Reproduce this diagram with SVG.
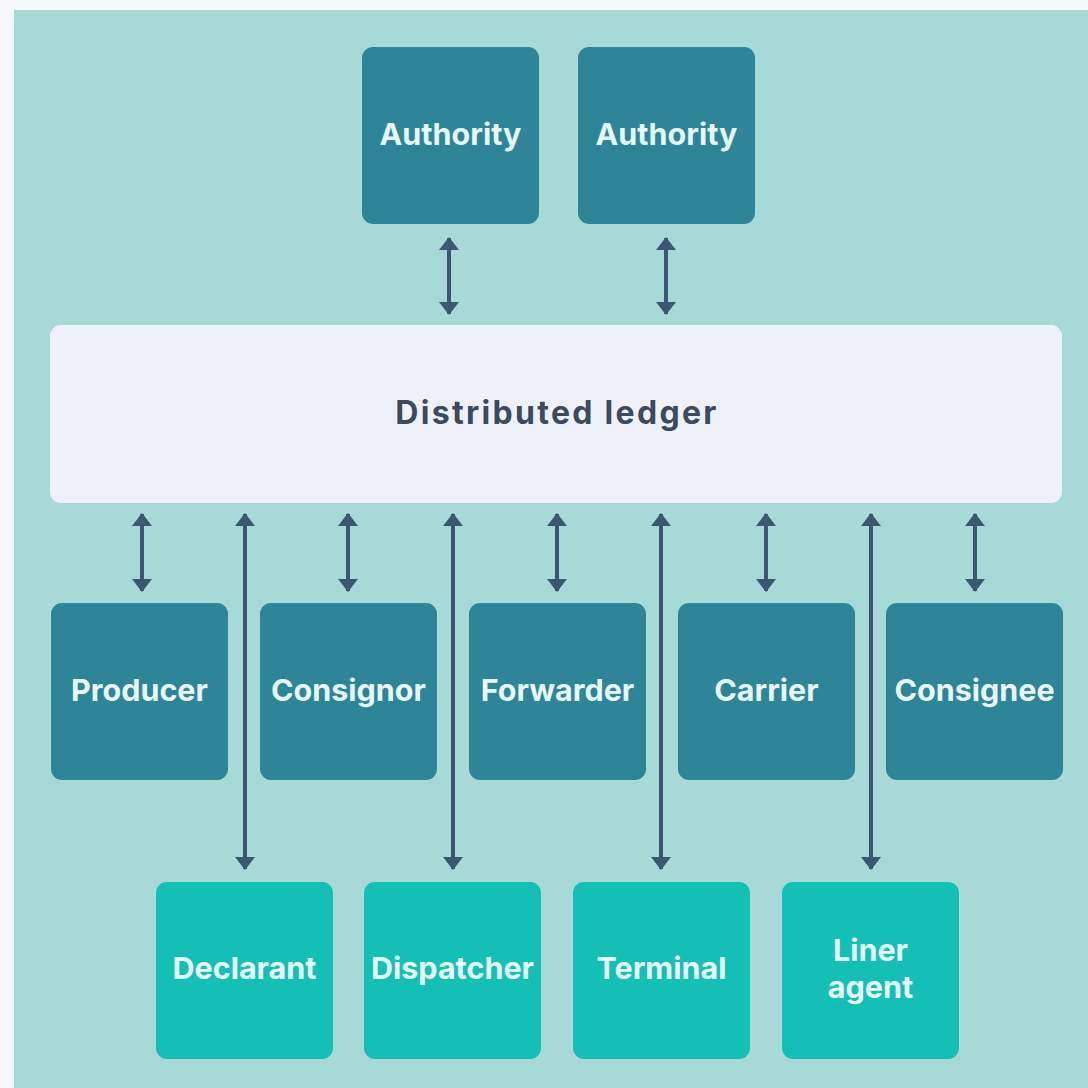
<svg xmlns="http://www.w3.org/2000/svg" width="1088" height="1088" viewBox="0 0 1088 1088">
<defs>
<style>
.dark{fill:#2E8598}
.light{fill:#14C0B6}
.lbl{font-family:Inter,"Liberation Sans",sans-serif;font-weight:700;font-size:30.5px;fill:#E6F8F8;text-anchor:middle;dominant-baseline:central}
.ledger-lbl{font-family:Inter,"Liberation Sans",sans-serif;font-weight:700;font-size:32px;letter-spacing:2.3px;fill:#3B4A5E;text-anchor:middle;dominant-baseline:central}
.con{stroke:#3C5870;stroke-width:4;fill:none;marker-start:url(#ah);marker-end:url(#ah)}
</style>
<marker id="ah" viewBox="0 0 13 20" refX="12" refY="10" markerWidth="13" markerHeight="20" markerUnits="userSpaceOnUse" orient="auto-start-reverse">
<path d="M0,0 L13,10 L0,20 Z" fill="#3C5870"/>
</marker>
</defs>
<rect x="0" y="0" width="1088" height="1088" fill="#F7F8FC"/>
<rect x="14" y="10" width="1074" height="1078" fill="#A7DAD6"/>

<g id="connectors">
<line class="con" x1="449" y1="238" x2="449" y2="314"/>
<line class="con" x1="666" y1="238" x2="666" y2="314"/>
<line class="con" x1="142" y1="514" x2="142" y2="591"/>
<line class="con" x1="348" y1="514" x2="348" y2="591"/>
<line class="con" x1="557" y1="514" x2="557" y2="591"/>
<line class="con" x1="766" y1="514" x2="766" y2="591"/>
<line class="con" x1="975" y1="514" x2="975" y2="591"/>
<line class="con" x1="245" y1="514" x2="245" y2="869"/>
<line class="con" x1="453" y1="514" x2="453" y2="869"/>
<line class="con" x1="661" y1="514" x2="661" y2="869"/>
<line class="con" x1="871" y1="514" x2="871" y2="869"/>
</g>

<g id="authority1"><rect class="dark" x="362" y="47" width="177" height="177" rx="11"/><text class="lbl" x="450.5" y="133">Authority</text></g>
<g id="authority2"><rect class="dark" x="578" y="47" width="177" height="177" rx="11"/><text class="lbl" x="666.5" y="133">Authority</text></g>

<g id="ledger"><rect x="50" y="325" width="1012" height="178" rx="11" fill="#EEF1FA"/><text class="ledger-lbl" x="557" y="412">Distributed ledger</text></g>

<g id="producer"><rect class="dark" x="51" y="603" width="177" height="177" rx="11"/><text class="lbl" x="139.5" y="689">Producer</text></g>
<g id="consignor"><rect class="dark" x="260" y="603" width="177" height="177" rx="11"/><text class="lbl" x="348.5" y="689">Consignor</text></g>
<g id="forwarder"><rect class="dark" x="469" y="603" width="177" height="177" rx="11"/><text class="lbl" x="557.5" y="689">Forwarder</text></g>
<g id="carrier"><rect class="dark" x="678" y="603" width="177" height="177" rx="11"/><text class="lbl" x="766.5" y="689">Carrier</text></g>
<g id="consignee"><rect class="dark" x="886" y="603" width="177" height="177" rx="11"/><text class="lbl" x="974.5" y="689">Consignee</text></g>

<g id="declarant"><rect class="light" x="156" y="882" width="177" height="177" rx="11"/><text class="lbl" x="244.5" y="967">Declarant</text></g>
<g id="dispatcher"><rect class="light" x="364" y="882" width="177" height="177" rx="11"/><text class="lbl" x="452.5" y="967">Dispatcher</text></g>
<g id="terminal"><rect class="light" x="573" y="882" width="177" height="177" rx="11"/><text class="lbl" x="661.5" y="967">Terminal</text></g>
<g id="liner-agent"><rect class="light" x="782" y="882" width="177" height="177" rx="11"/><text class="lbl" x="870.5" y="967"><tspan x="870.5" dy="-18">Liner</tspan><tspan x="870.5" dy="37">agent</tspan></text></g>
</svg>
